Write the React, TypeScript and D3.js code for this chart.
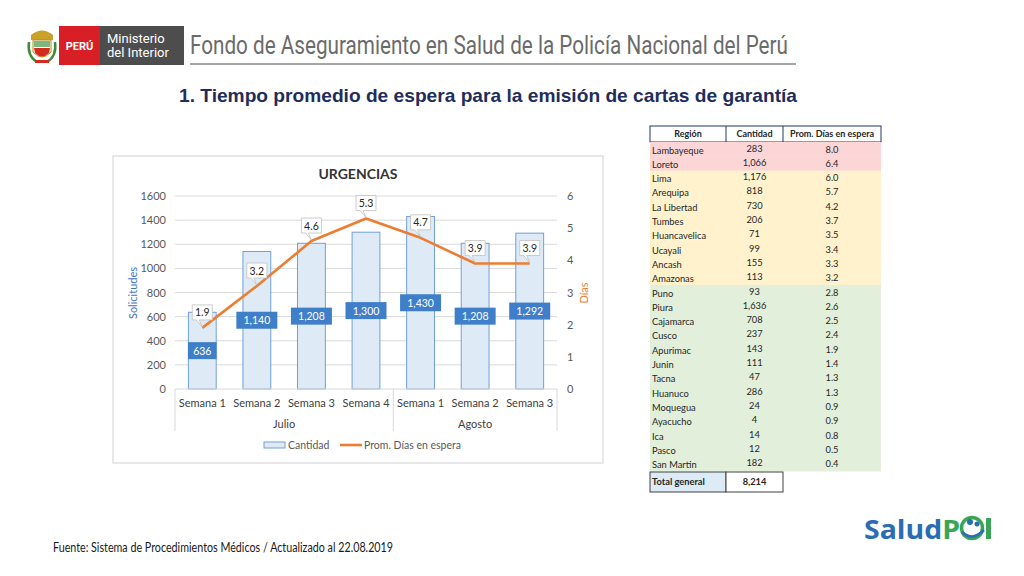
import { useEffect, useRef } from 'react';
import * as d3 from 'd3';

// chart data
const semanas = ['Semana 1', 'Semana 2', 'Semana 3', 'Semana 4', 'Semana 1', 'Semana 2', 'Semana 3'];
const meses = ['Julio', 'Julio', 'Julio', 'Julio', 'Agosto', 'Agosto', 'Agosto'];
const cantidad = [636, 1140, 1208, 1300, 1430, 1208, 1292];
const promDias = [1.9, 3.2, 4.6, 5.3, 4.7, 3.9, 3.9];
const ticksSolicitudes = [0, 200, 400, 600, 800, 1000, 1200, 1400, 1600];
const ticksDias = [0, 1, 2, 3, 4, 5, 6];

// table data
const regiones = ['Lambayeque', 'Loreto', 'Lima', 'Arequipa', 'La Libertad', 'Tumbes', 'Huancavelica', 'Ucayali', 'Ancash', 'Amazonas', 'Puno', 'Piura', 'Cajamarca', 'Cusco', 'Apurimac', 'Junin', 'Tacna', 'Huanuco', 'Moquegua', 'Ayacucho', 'Ica', 'Pasco', 'San Martin'];
const cantRegion = [283, 1066, 1176, 818, 730, 206, 71, 99, 155, 113, 93, 1636, 708, 237, 143, 111, 47, 286, 24, 4, 14, 12, 182];
const diasRegion = [8.0, 6.4, 6.0, 5.7, 4.2, 3.7, 3.5, 3.4, 3.3, 3.2, 2.8, 2.6, 2.5, 2.4, 1.9, 1.4, 1.3, 1.3, 0.9, 0.9, 0.8, 0.5, 0.4];
const totalGeneral = 8214;

const FONT = 'Lato, "Open Sans", sans-serif';
const ORANGE = '#ed7d31';
const fmt = d3.format(',');

export default function App() {
  const ref = useRef<SVGSVGElement>(null);

  useEffect(() => {
    if (!ref.current) return;
    const svg = d3.select(ref.current);
    svg.selectAll('*').remove();

    // ---------- header ----------
    const hdr = svg.append('g');
    // emblem (rough)
    hdr.append('path').attr('d', 'M31,35 Q42,26 53,35 L53,40 L31,40 Z').attr('fill', '#c9a227');
    hdr.append('path').attr('d', 'M33,40 L51,40 L51,52 Q42,62 33,52 Z').attr('fill', '#fff').attr('stroke', '#b48a1e').attr('stroke-width', 1);
    hdr.append('rect').attr('x', 34).attr('y', 41).attr('width', 16).attr('height', 6).attr('fill', '#7fb77e');
    hdr.append('path').attr('d', 'M34,48 L50,48 L49,53 Q42,60 35,53 Z').attr('fill', '#d52b1e');
    hdr.append('path').attr('d', 'M29,42 Q27,56 37,62 M55,42 Q57,56 47,62').attr('fill', 'none').attr('stroke', '#3c8c3c').attr('stroke-width', 2.5);
    hdr.append('rect').attr('x', 35).attr('y', 60).attr('width', 14).attr('height', 3).attr('fill', '#d52b1e');

    hdr.append('rect').attr('x', 59).attr('y', 26).attr('width', 41).attr('height', 39).attr('fill', '#d91f26');
    hdr.append('rect').attr('x', 100).attr('y', 26).attr('width', 84).attr('height', 39).attr('fill', '#4d4d4d');
    hdr.append('text').attr('x', 79.5).attr('y', 50).attr('text-anchor', 'middle').attr('fill', '#fff')
      .attr('font-family', 'Roboto, sans-serif').attr('font-weight', 700).attr('font-size', 11).text('PERÚ');
    hdr.append('text').attr('x', 107).attr('y', 43).attr('fill', '#fff').attr('font-family', 'Roboto, sans-serif').attr('font-size', 13).text('Ministerio');
    hdr.append('text').attr('x', 107).attr('y', 57).attr('fill', '#fff').attr('font-family', 'Roboto, sans-serif').attr('font-size', 13).text('del Interior');

    hdr.append('text').attr('x', 190).attr('y', 54).attr('fill', '#6b6b6b')
      .attr('font-family', 'Roboto, sans-serif').attr('font-weight', 400).attr('font-size', 25)
      .attr('textLength', 598).attr('lengthAdjust', 'spacingAndGlyphs')
      .text('Fondo de Aseguramiento en Salud de la Policía Nacional del Perú');
    hdr.append('line').attr('x1', 190).attr('x2', 796).attr('y1', 64).attr('y2', 64).attr('stroke', '#a6a6a6').attr('stroke-width', 2);

    svg.append('text').attr('x', 179).attr('y', 102).attr('fill', '#1f2d5c')
      .attr('font-family', '"Liberation Sans", Arial, sans-serif').attr('font-weight', 700).attr('font-size', 18.5)
      .attr('textLength', 618).attr('lengthAdjust', 'spacingAndGlyphs')
      .text('1. Tiempo promedio de espera para la emisión de cartas de garantía');

    // ---------- chart ----------
    const ch = svg.append('g').attr('font-family', FONT);
    ch.append('rect').attr('x', 113).attr('y', 156).attr('width', 490).attr('height', 307)
      .attr('fill', '#fff').attr('stroke', '#d9d9d9').attr('stroke-width', 1.2);
    ch.append('text').attr('x', 358).attr('y', 179).attr('text-anchor', 'middle').attr('font-weight', 700)
      .attr('font-size', 14).attr('fill', '#333').text('URGENCIAS');

    const x = d3.scaleBand<number>().domain(d3.range(semanas.length)).range([175, 557]).paddingInner(0.49).paddingOuter(0.245);
    const yL = d3.scaleLinear().domain([0, 1600]).range([389, 196]);
    const yR = d3.scaleLinear().domain([0, 6]).range([389, 196]);

    ch.append('g').selectAll('line').data(ticksSolicitudes.slice(1)).join('line')
      .attr('x1', 175).attr('x2', 557).attr('y1', (d) => yL(d)).attr('y2', (d) => yL(d))
      .attr('stroke', '#d9d9d9').attr('stroke-width', 1);

    ch.append('g').selectAll('text').data(ticksSolicitudes).join('text')
      .attr('x', 166).attr('y', (d) => yL(d) + 4).attr('text-anchor', 'end')
      .attr('font-size', 11).attr('fill', '#595959').text((d) => d);
    ch.append('g').selectAll('text').data(ticksDias).join('text')
      .attr('x', 567).attr('y', (d) => yR(d) + 4)
      .attr('font-size', 11).attr('fill', '#595959').text((d) => d);

    ch.append('text').attr('transform', 'translate(137,293) rotate(-90)').attr('text-anchor', 'middle')
      .attr('font-size', 11).attr('fill', '#4472c4').text('Solicitudes');
    ch.append('text').attr('transform', 'translate(588,293) rotate(-90)').attr('text-anchor', 'middle')
      .attr('font-size', 11).attr('fill', ORANGE).text('Días');

    // bars
    ch.append('g').selectAll('rect').data(cantidad).join('rect')
      .attr('x', (_, i) => x(i)!).attr('width', x.bandwidth())
      .attr('y', (d) => yL(d)).attr('height', (d) => yL(0) - yL(d))
      .attr('fill', '#deebf7').attr('stroke', '#6f9fd8').attr('stroke-width', 1);

    // x axis + category groups
    ch.append('line').attr('x1', 175).attr('x2', 557).attr('y1', yL(0)).attr('y2', yL(0)).attr('stroke', '#d9d9d9');
    ch.append('g').selectAll('text').data(semanas).join('text')
      .attr('x', (_, i) => x(i)! + x.bandwidth() / 2).attr('y', 407).attr('text-anchor', 'middle')
      .attr('font-size', 11).attr('fill', '#404040').text((d) => d);

    const grupos = Array.from(d3.group(semanas.map((_, i) => i), (i) => meses[i]), ([mes, idx]) => ({ mes, idx }));
    const step = x.step();
    const bounds = [175];
    grupos.forEach((g) => bounds.push(x(g.idx[g.idx.length - 1])! + x.bandwidth() / 2 + step / 2));
    ch.append('g').selectAll('line').data(bounds).join('line')
      .attr('x1', (d) => d).attr('x2', (d) => d).attr('y1', yL(0)).attr('y2', 431)
      .attr('stroke', '#d9d9d9');
    ch.append('g').selectAll('text').data(grupos).join('text')
      .attr('x', (g) => (x(g.idx[0])! + x(g.idx[g.idx.length - 1])! + x.bandwidth()) / 2)
      .attr('y', 428).attr('text-anchor', 'middle').attr('font-size', 11).attr('fill', '#404040')
      .text((g) => g.mes);

    // bar value labels
    const bl = ch.append('g').selectAll('g').data(cantidad).join('g')
      .attr('transform', (d, i) => `translate(${x(i)! + x.bandwidth() / 2},${(yL(d) + yL(0)) / 2})`);
    bl.append('rect').attr('x', (d) => -(fmt(d).length * 3.1 + 5)).attr('width', (d) => fmt(d).length * 6.2 + 10)
      .attr('y', -8.5).attr('height', 17).attr('fill', '#3f7fc9');
    bl.append('text').attr('y', 4).attr('text-anchor', 'middle').attr('font-size', 10.5).attr('fill', '#fff').text((d) => fmt(d));

    // line
    const line = d3.line<number>().x((_, i) => x(i)! + x.bandwidth() / 2).y((d) => yR(d));
    ch.append('path').datum(promDias).attr('d', line).attr('fill', 'none')
      .attr('stroke', ORANGE).attr('stroke-width', 2.6).attr('stroke-linejoin', 'round');

    // callouts
    const co = ch.append('g').selectAll('g').data(promDias).join('g')
      .attr('transform', (d, i) => `translate(${x(i)! + x.bandwidth() / 2},${yR(d)})`);
    co.append('path')
      .attr('d', 'M-10,-23 L10,-23 L10,-8 L-3,-8 L0,-1 L-6,-8 L-10,-8 Z')
      .attr('fill', '#fff').attr('stroke', '#bfbfbf').attr('stroke-width', 0.8);
    co.append('text').attr('y', -11.5).attr('text-anchor', 'middle').attr('font-size', 10.5).attr('fill', '#262626')
      .text((d) => d.toFixed(1));

    // legend
    const lg = ch.append('g');
    lg.append('rect').attr('x', 264).attr('y', 442).attr('width', 21).attr('height', 6)
      .attr('fill', '#deebf7').attr('stroke', '#6f9fd8');
    lg.append('text').attr('x', 288).attr('y', 449).attr('font-size', 10.5).attr('fill', '#595959').text('Cantidad');
    lg.append('line').attr('x1', 340).attr('x2', 362).attr('y1', 445).attr('y2', 445).attr('stroke', ORANGE).attr('stroke-width', 2.6);
    lg.append('text').attr('x', 364).attr('y', 449).attr('font-size', 10.5).attr('fill', '#595959').text('Prom. Días en espera');

    // ---------- table ----------
    const tb = svg.append('g').attr('font-family', FONT).attr('font-size', 9.3).attr('fill', '#262626');
    const cols = [650, 726, 783, 881];
    const rowY = d3.scaleBand<number>().domain(d3.range(regiones.length)).range([142, 471]);
    const colorFor = (v: number) => (v > 6 ? '#fcd6d6' : v >= 3 ? '#fff2cc' : '#e2efda');

    tb.append('rect').attr('x', cols[0]).attr('y', 126).attr('width', cols[3] - cols[0]).attr('height', 16)
      .attr('fill', '#fff').attr('stroke', '#1f3864').attr('stroke-width', 1);
    [cols[1], cols[2]].forEach((c) => tb.append('line').attr('x1', c).attr('x2', c).attr('y1', 126).attr('y2', 142).attr('stroke', '#1f3864'));
    ['Región', 'Cantidad', 'Prom. Días en espera'].forEach((t, i) =>
      tb.append('text').attr('x', (cols[i] + cols[i + 1]) / 2).attr('y', 137).attr('text-anchor', 'middle')
        .attr('font-weight', 700).attr('font-size', 9).text(t));

    const rows = tb.append('g').selectAll('g').data(regiones).join('g')
      .attr('transform', (_, i) => `translate(0,${rowY(i)})`);
    rows.append('rect').attr('x', cols[0]).attr('width', cols[3] - cols[0]).attr('height', rowY.bandwidth() + 0.5)
      .attr('fill', (_, i) => colorFor(diasRegion[i]));
    rows.append('text').attr('x', cols[0] + 2).attr('y', 11.5).text((d) => d);
    rows.append('text').attr('x', (cols[1] + cols[2]) / 2).attr('y', 9.5).attr('text-anchor', 'middle').text((_, i) => fmt(cantRegion[i]));
    rows.append('text').attr('x', (cols[2] + cols[3]) / 2).attr('y', 10.5).attr('text-anchor', 'middle').text((_, i) => diasRegion[i].toFixed(1));

    tb.append('rect').attr('x', cols[0]).attr('y', 472).attr('width', cols[1] - cols[0]).attr('height', 20)
      .attr('fill', '#ddebf7').attr('stroke', '#404040');
    tb.append('rect').attr('x', cols[1]).attr('y', 472).attr('width', cols[2] - cols[1]).attr('height', 20)
      .attr('fill', '#fff').attr('stroke', '#404040');
    tb.append('text').attr('x', cols[0] + 2).attr('y', 485).attr('font-weight', 700).text('Total general');
    tb.append('text').attr('x', (cols[1] + cols[2]) / 2).attr('y', 485).attr('text-anchor', 'middle').attr('font-weight', 700).text(fmt(totalGeneral));

    // ---------- footer ----------
    svg.append('text').attr('x', 53).attr('y', 552).attr('font-family', FONT).attr('font-size', 12.5).attr('fill', '#1a1a1a')
      .attr('textLength', 340).attr('lengthAdjust', 'spacingAndGlyphs')
      .text('Fuente: Sistema de Procedimientos Médicos / Actualizado al 22.08.2019');

    // SaludPol logo (approximate)
    const lo = svg.append('g');
    const word = lo.append('text').attr('x', 864).attr('y', 539)
      .attr('font-family', '"Open Sans", sans-serif').attr('font-weight', 700).attr('font-size', 27)
      .attr('textLength', 96).attr('lengthAdjust', 'spacingAndGlyphs');
    word.append('tspan').attr('fill', '#2a6db5').text('Salud');
    word.append('tspan').attr('fill', '#3aa655').text('P');
    lo.append('circle').attr('cx', 972).attr('cy', 528).attr('r', 10.5).attr('fill', 'none').attr('stroke', '#3aa655').attr('stroke-width', 3.5);
    lo.append('circle').attr('cx', 970).attr('cy', 522).attr('r', 3).attr('fill', '#2a6db5');
    lo.append('circle').attr('cx', 977).attr('cy', 524).attr('r', 2.5).attr('fill', '#2a6db5');
    lo.append('path').attr('d', 'M962,532 Q972,542 984,530').attr('fill', 'none').attr('stroke', '#2a6db5').attr('stroke-width', 2.5);
    lo.append('rect').attr('x', 986).attr('y', 518).attr('width', 5).attr('height', 21).attr('fill', '#3aa655');
  }, []);

  return (
    <svg ref={ref} width={1024} height={576}
      style={{ position: 'absolute', left: 0, top: 0, background: '#fff' }} />
  );
}
